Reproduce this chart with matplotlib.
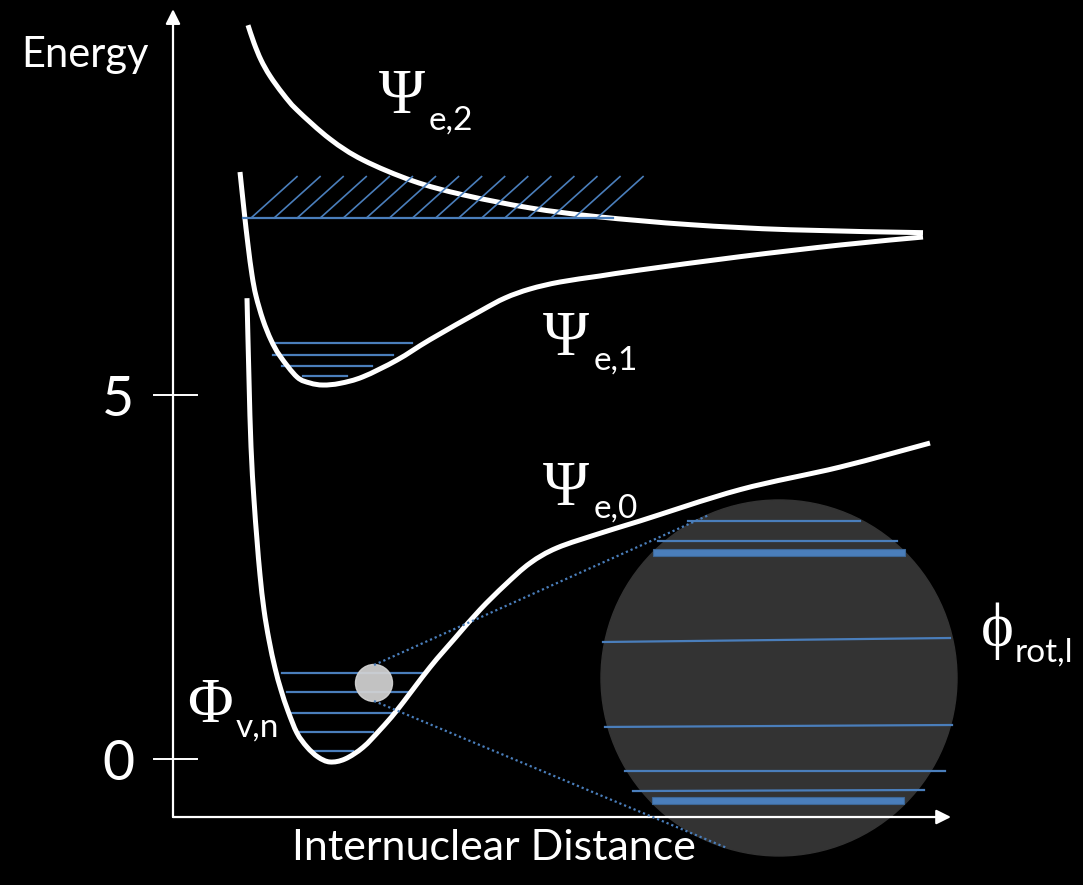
import matplotlib.pyplot as plt
import numpy as np
from matplotlib.patches import Ellipse, Rectangle, PathPatch
from matplotlib.path import Path

# units: r = internuclear distance (arb.), E = energy (arb.)
# ground state Psi_e,0
r_e0 = [7.4, 7.6, 7.8, 8.1, 8.4, 8.7, 9.1, 9.6, 10.2, 10.8, 11.5, 12.4, 13.4, 14.5, 15.7,
        17.2, 19.0, 20.7, 22.4, 25.7, 28.2, 30.7, 33.2, 35.7, 38.4, 42.7, 46.7, 56.7,
        66.7, 75.7]
E_e0 = [6.33, 5.21, 4.29, 3.558, 3.008, 2.527, 2.047, 1.635, 1.250, 0.948, 0.659, 0.357,
        0.165, 0.027, -0.041, 0.0, 0.16, 0.40, 0.67, 1.26, 1.66, 2.05, 2.39, 2.69, 2.90,
        3.10, 3.27, 3.70, 4.01, 4.34]
# first excited state Psi_e,1
r_e1 = [6.7, 7.1, 7.5, 7.9, 8.3, 9.0, 9.8, 10.7, 12.4, 13.7, 15.0, 16.7, 19.0, 22.4,
        25.7, 30.7, 33.2, 35.7, 38.7, 42.7, 46.7, 56.7, 66.7, 75.0]
E_e1 = [8.063, 7.541, 7.060, 6.648, 6.360, 6.030, 5.755, 5.536, 5.247, 5.165, 5.137, 5.16,
        5.25, 5.48, 5.76, 6.15, 6.332, 6.456, 6.552, 6.635, 6.717, 6.90, 7.06, 7.17]
# repulsive state Psi_e,2
r_e2 = [7.5, 8.1, 8.8, 9.7, 11.0, 12.4, 15.7, 19.0, 24.0, 29.0, 35.7, 42.4, 51.7, 61.7, 75.0]
E_e2 = [10.08, 9.835, 9.602, 9.382, 9.135, 8.915, 8.516, 8.228, 7.94, 7.75, 7.57, 7.45,
        7.34, 7.27, 7.23]

# vibrational levels (E, r_left, r_right)
vib0_E = [1.181, 0.920, 0.632, 0.371, 0.110]
vib0_rl = [10.9, 11.4, 11.9, 12.7, 14.0]
vib0_rr = [25.0, 23.5, 22.0, 20.0, 18.0]
vib1_E = [5.714, 5.549, 5.398, 5.261]
vib1_rl = [10.2, 10.0, 10.9, 13.0]
vib1_rr = [23.9, 22.0, 19.9, 17.4]

# dissociation continuum (hatched)
cont_E = 7.431
cont_top = 8.0
cont_rl, cont_rr = 7.0, 44.0

# rotational levels in the zoom circle (r_left, r_right, E_left, E_right)
rot_rl = [51.5, 48.5, 43.0, 43.2, 45.2, 46.0]
rot_rr = [68.7, 72.4, 77.7, 77.9, 77.2, 75.1]
rot_El = [3.276, 2.988, 1.607, 0.440, -0.165, -0.440]
rot_Er = [3.276, 2.988, 1.662, 0.467, -0.165, -0.426]
# thick levels (r_left, r_right, E_bottom, E_top)
band_rl = [48.0, 47.9]
band_rr = [73.2, 73.1]
band_Eb = [2.788, -0.618]
band_Et = [2.885, -0.522]

blue = '#4a7ebb'
sans = ['Lato', 'DejaVu Sans']
serif = ['Liberation Serif', 'DejaVu Serif']


def smooth_path(xs, ys):
    # catmull-rom through the points, drawn as cubic bezier segments
    p = np.column_stack([xs, ys]).astype(float)
    p = np.vstack([p[0], p, p[-1]])
    verts = [p[1]]
    codes = [Path.MOVETO]
    for i in range(1, len(p) - 2):
        c1 = p[i] + (p[i + 1] - p[i - 1]) / 6
        c2 = p[i + 1] - (p[i + 2] - p[i]) / 6
        verts += [c1, c2, p[i + 1]]
        codes += [Path.CURVE4] * 3
    return Path(verts, codes)


fig = plt.figure(figsize=(10.83, 8.85), dpi=100, facecolor='black')
ax = fig.add_axes([0, 0, 1, 1])
ax.set_facecolor('black')
ax.set_xlim(-17.3, 91.0)
ax.set_ylim(-1.7308, 10.4258)
ax.axis('off')

# zoom circle
ax.add_patch(Ellipse((60.6, 1.113), 35.6, 4.89, color='#333333', zorder=1))
for rl, rr, el, er in zip(rot_rl, rot_rr, rot_El, rot_Er):
    ax.plot([rl, rr], [el, er], color=blue, lw=1.6, zorder=2)
for rl, rr, eb, et in zip(band_rl, band_rr, band_Eb, band_Et):
    ax.add_patch(Rectangle((rl, eb), rr - rl, et - eb, facecolor=blue,
                           edgecolor='#3d6796', lw=0.8, zorder=2))

# axes with arrows
ax.annotate('', xy=(0, 10.30), xytext=(0, -0.797),
            arrowprops=dict(arrowstyle='-|>', color='white', lw=1.6,
                            mutation_scale=22, shrinkA=0, shrinkB=0), zorder=3)
ax.annotate('', xy=(77.8, -0.797), xytext=(0, -0.797),
            arrowprops=dict(arrowstyle='-|>', color='white', lw=1.6,
                            mutation_scale=22, shrinkA=0, shrinkB=0), zorder=3)
for e in [0, 5]:
    ax.plot([-1.9, 2.4], [e, e], color='white', lw=1.4, zorder=3)
    ax.text(-5.5, e - 0.08, str(e), color='white', fontsize=40, family=sans,
            ha='center', va='center')

# vibrational levels
for e, rl, rr in zip(vib0_E, vib0_rl, vib0_rr):
    ax.plot([rl, rr], [e, e], color=blue, lw=1.6, zorder=3)
for e, rl, rr in zip(vib1_E, vib1_rl, vib1_rr):
    ax.plot([rl, rr], [e, e], color=blue, lw=1.6, zorder=3)

# potential curves
for r, E in [(r_e0, E_e0), (r_e1, E_e1), (r_e2, E_e2)]:
    ax.add_patch(PathPatch(smooth_path(r, E), fill=False, edgecolor='white',
                           lw=3.6, capstyle='butt', joinstyle='round', zorder=4))

# hatched continuum
ax.plot([cont_rl, cont_rr], [cont_E, cont_E], color=blue, lw=1.6, zorder=5)
for rb in np.arange(7.8, 43.0, 2.307):
    ax.plot([rb, rb + 4.6], [cont_E, cont_top], color=blue, lw=1.2, zorder=5)

# selected level and zoom lines
ax.add_patch(Ellipse((20.1, 1.044), 3.7, 0.508, color='#d4d4d4', alpha=0.92, zorder=6))
ax.plot([20.1, 53.6], [1.291, 3.352], color=blue, lw=1.6, ls=(0, (1, 1.3)), zorder=6)
ax.plot([20.1, 55.4], [0.797, -1.2225], color=blue, lw=1.6, ls=(0, (1, 1.3)), zorder=6)

# labels
ax.text(-8.8, 9.505, 'Energy', color='white', fontsize=30, family=sans,
        ha='center', va='baseline')
ax.text(32.1, -1.387, 'Internuclear Distance', color='white', fontsize=31, family=sans,
        ha='center', va='baseline')

greek = [('\u03a8', 22.85, 8.874, 'e,2', 25.6, 8.640),
         ('\u03a8', 39.3, 5.549, 'e,1', 42.1, 5.343),
         ('\u03a8', 39.3, 3.489, 'e,0', 42.1, 3.310),
         ('\u03a6', 3.65, 0.508, 'v,n', 6.3, 0.302),
         ('\u03d5', 82.45, 1.552, 'rot,l', 84.2, 1.332)]
for sym, xs, ys, sub, xb, yb in greek:
    ax.text(xs, ys, sym, color='white', fontsize=45, family=serif,
            ha='center', va='baseline', zorder=7)
    ax.text(xb, yb, sub, color='white', fontsize=24, family=sans,
            ha='left', va='baseline', zorder=7)

fig.savefig('out.png', dpi=100, facecolor='black')
